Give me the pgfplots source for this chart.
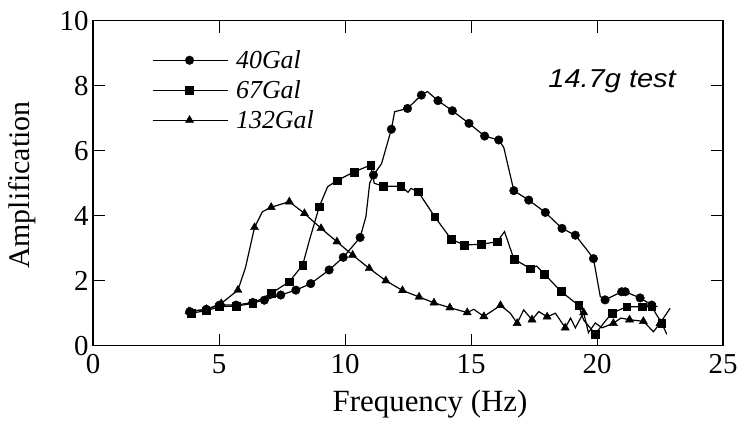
\documentclass[border=0pt]{standalone}
\usepackage{pgfplots}
\pgfplotsset{compat=1.18}
\usepackage{pgfplotstable}
\usepackage{fontspec}
\setmainfont{Liberation Serif}
\setsansfont{Liberation Sans}
\newfontfamily\widesans[FakeStretch=1.12]{Liberation Sans}

% x y m  (m=1: point carries a marker)
\pgfplotstableread{
x y m
3.84 1.05 1
4.50 1.12 1
5.02 1.25 1
5.68 1.25 1
6.34 1.33 1
6.80 1.40 1
7.45 1.56 1
8.05 1.71 1
8.64 1.91 1
9.37 2.33 1
9.93 2.72 1
10.60 3.33 1
10.83 3.97 0
10.98 5.00 0
11.13 5.25 1
11.45 5.60 0
11.84 6.66 1
11.97 7.20 0
12.48 7.30 1
13.03 7.71 1
13.27 7.82 0
13.69 7.54 1
14.26 7.23 1
14.92 6.84 1
15.54 6.45 1
16.10 6.33 1
16.30 6.10 0
16.70 4.77 1
17.29 4.48 1
17.95 4.10 1
18.61 3.61 1
19.14 3.40 1
19.60 2.95 0
19.86 2.68 1
20.13 1.51 0
20.32 1.41 1
20.98 1.66 1
21.12 1.66 1
21.71 1.47 1
22.17 1.25 1
22.40 1.20 0
}\gala

\pgfplotstableread{
x y m
3.90 1.00 1
4.50 1.08 1
5.02 1.20 1
5.68 1.22 1
6.34 1.30 1
7.07 1.61 1
7.79 1.97 1
8.32 2.48 1
8.59 3.25 0
8.98 4.28 1
9.31 4.89 0
9.68 5.08 1
10.37 5.35 1
11.02 5.56 1
11.16 5.00 0
11.53 4.90 1
12.21 4.91 1
12.50 4.72 0
12.62 4.84 0
12.90 4.74 1
13.56 3.97 1
14.22 3.27 1
14.74 3.10 1
15.41 3.12 1
16.04 3.20 1
16.33 3.51 0
16.70 2.67 1
17.36 2.37 1
17.60 2.45 0
17.92 2.20 1
18.57 1.67 1
19.27 1.24 1
19.47 0.79 0
19.93 0.36 1
20.26 0.69 0
20.59 1.00 1
21.18 1.20 1
21.78 1.20 1
22.17 1.20 1
22.57 0.69 1
22.77 0.35 0
}\galb

\pgfplotstableread{
x y m
3.81 1.05 1
4.50 1.12 1
5.09 1.30 1
5.75 1.71 1
6.05 2.40 0
6.41 3.64 1
6.72 4.12 0
7.07 4.26 1
7.79 4.43 1
8.39 4.07 1
9.05 3.61 1
9.68 3.20 1
10.30 2.79 1
10.96 2.38 1
11.62 2.00 1
12.28 1.70 1
12.94 1.50 1
13.53 1.32 1
14.16 1.17 1
14.85 1.02 1
15.11 1.12 0
15.51 0.90 1
16.17 1.24 1
16.56 1.00 0
16.83 0.69 1
17.09 1.10 0
17.42 0.80 1
17.69 1.05 0
18.02 0.89 1
18.35 1.00 0
18.74 0.55 1
18.95 0.85 0
19.14 0.55 0
19.47 1.02 1
19.66 0.40 0
19.93 0.70 0
20.20 0.55 0
20.65 0.69 1
20.95 0.85 0
21.29 0.80 1
21.84 0.75 1
22.24 0.43 0
22.50 0.69 1
22.90 1.15 0
}\galc

\begin{document}
\begin{tikzpicture}
\begin{axis}[
    width=630bp, height=325bp, scale only axis,
    xmin=0, xmax=25, ymin=0, ymax=10,
    xtick={0,5,...,25}, ytick={0,2,...,10},
    tick align=inside, major tick length=12bp,
    axis line style={line width=1.1pt},
    tick style={line width=1pt, black},
    /pgf/number format/assume math mode=true,
    tick label style={font=\fontsize{29}{32}\selectfont},
    xticklabel style={yshift=-5bp},
    yticklabel style={xshift=-1bp},
    xlabel={Frequency (Hz)},
    ylabel={Amplification},
    xlabel style={font=\fontsize{31}{34}\selectfont,
        at={(axis description cs:0.535,-0.203)}, anchor=base},
    ylabel style={font=\fontsize{30}{33}\selectfont,
        at={(axis description cs:-0.1127,0.494)}, anchor=center},
    unbounded coords=discard,
    legend cell align=left,
    legend style={draw=none, fill=none, at={(axis cs:2.33,9.15)}, anchor=north west,
        font=\fontsize{26}{28}\selectfont\itshape, inner xsep=0pt, inner ysep=0pt,
        row sep=6.5bp, column sep=6bp},
    legend image code/.code={
        \draw[line width=1.2pt] (0bp,0bp) -- (75bp,0bp);
        \path plot coordinates {(37bp,0bp)};
    },
]
\addplot[black, line width=1.2pt, forget plot] table[x=x, y=y] {\gala};
\addplot[black, only marks, mark=*, mark size=4.3bp]
    table[x=x, y expr={\thisrow{m}==1 ? \thisrow{y} : nan}] {\gala};
\addlegendentry{40Gal}
\addplot[black, line width=1.2pt, forget plot] table[x=x, y=y] {\galb};
\addplot[black, only marks, mark=square*, mark size=3.9bp]
    table[x=x, y expr={\thisrow{m}==1 ? \thisrow{y} : nan}] {\galb};
\addlegendentry{67Gal}
\addplot[black, line width=1.2pt, forget plot] table[x=x, y=y] {\galc};
\addplot[black, only marks, mark=triangle*, mark size=4.7bp]
    table[x=x, y expr={\thisrow{m}==1 ? \thisrow{y} : nan}] {\galc};
\addlegendentry{132Gal}
\node[font=\fontsize{26}{30}\selectfont\widesans\itshape, anchor=base]
    at (axis cs:20.6,7.95) {14.7g test};
\coordinate (A) at (rel axis cs:0,0);
\coordinate (B) at (rel axis cs:1,1);
\end{axis}
\path (A) ++(-93bp,-79.3bp) coordinate (C);
\path (B) ++(18bp,20.7bp) coordinate (D);
\pgfresetboundingbox
\path (C) rectangle (D);
\end{tikzpicture}
\end{document}
